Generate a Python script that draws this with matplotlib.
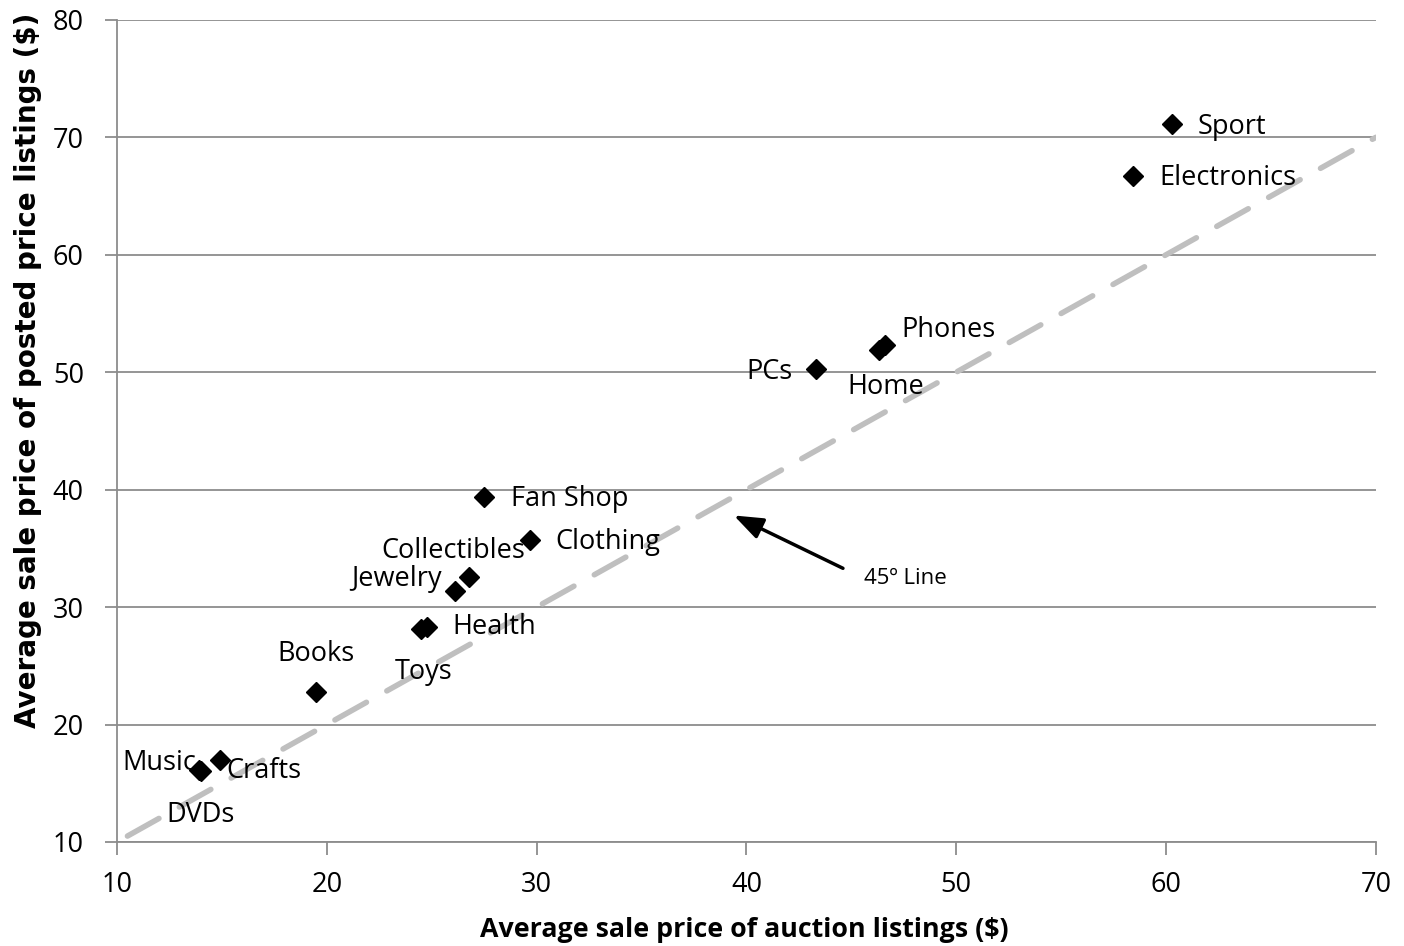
import matplotlib
matplotlib.use("Agg")
import matplotlib.pyplot as plt

plt.rcParams['font.family'] = ['Open Sans', 'DejaVu Sans']

categories = ["Sport", "Electronics", "Phones", "Home", "PCs", "Fan Shop", "Clothing",
              "Collectibles", "Jewelry", "Health", "Toys", "Books", "Crafts", "Music", "DVDs"]
auction = [60.3, 58.4, 46.6, 46.3, 43.3, 27.5, 29.7, 26.8, 26.1, 24.8, 24.5, 19.5, 14.9, 14.0, 13.9]
posted = [71.1, 66.7, 52.3, 51.9, 50.3, 39.4, 35.7, 32.6, 31.4, 28.3, 28.1, 22.8, 17.0, 16.0, 16.1]

# label positions (data coords) and alignment
label_x = [61.5, 59.7, 47.4, 44.8, 42.2, 28.8, 30.9, 26.05, 25.5, 26.0, 24.6, 19.5, 15.2, 13.8, 14.0]
label_y = [70.9, 66.5, 53.6, 48.7, 50.0, 39.2, 35.5, 34.8, 32.4, 28.3, 24.5, 26.0, 16.0, 16.7, 12.3]
label_ha = ["left", "left", "left", "left", "right", "left", "left", "center", "right", "left",
            "center", "center", "left", "right", "center"]

line_x = [10.5, 70]
line_y = [10.5, 70]

W, H = 1404, 946
fig = plt.figure(figsize=(W / 100, H / 100), dpi=100)
ax = fig.add_axes([0.0833, 0.110, 0.8967, 0.869])

ax.set_xlim(10, 70)
ax.set_ylim(10, 80)
ax.set_xticks(range(10, 71, 10))
ax.set_yticks(range(10, 81, 10))

ax.grid(axis='y', color='#8c8c8c', linewidth=1.3)
ax.set_axisbelow(True)
for s in ['top', 'right']:
    ax.spines[s].set_visible(False)
for s in ['left', 'bottom']:
    ax.spines[s].set_color('#8c8c8c')
    ax.spines[s].set_linewidth(1.3)
ax.tick_params(axis='both', direction='out', length=9, width=1.3, color='#8c8c8c',
               labelsize=19.5, labelcolor='black')
ax.tick_params(axis='x', pad=12)
ax.tick_params(axis='y', pad=26)
for lbl in ax.get_yticklabels():
    lbl.set_horizontalalignment('center')

ax.plot(line_x, line_y, color='#bfbfbf', linewidth=4, linestyle=(0, (6.5, 4.2)),
        dash_capstyle='round', zorder=2)

ax.plot(auction, posted, linestyle='none', marker='D', markersize=10.5,
        color='black', zorder=3)

for name, lx, ly, ha in zip(categories, label_x, label_y, label_ha):
    ax.text(lx, ly, name, ha=ha, va='center', fontsize=19.5, color='black', zorder=4)

ax.annotate("", xy=(39.4, 37.8), xytext=(44.6, 33.3),
            arrowprops=dict(arrowstyle='-|>,head_width=0.3,head_length=0.8',
                            color='black', lw=2.5, mutation_scale=22,
                            shrinkA=0, shrinkB=0))
ax.text(45.6, 32.4, "45º Line", ha='left', va='center', fontsize=16, color='black')

# axis labels placed as free text, sized to match the reference extents
xl = fig.text(0.5, 0.5, "Average sale price of auction listings ($)", fontsize=19.4,
              fontweight='bold', ha='center', va='center')
yl = fig.text(0.5, 0.5, "Average sale price of posted price listings ($)", fontsize=18,
              fontweight='bold', ha='center', va='center', rotation=90,
              family=['DejaVu Sans'])

# targets in pixels (top-origin): (center_x, center_y, length)
targets = {xl: (744, 930, 528, 'w'), yl: (28, 370, 710, 'h')}
for _ in range(2):
    fig.canvas.draw()
    r = fig.canvas.get_renderer()
    for t, (cx, cy, L, dim) in targets.items():
        bb = t.get_window_extent(renderer=r)
        cur = bb.width if dim == 'w' else bb.height
        t.set_fontsize(t.get_fontsize() * L / cur)
fig.canvas.draw()
r = fig.canvas.get_renderer()
for t, (cx, cy, L, dim) in targets.items():
    bb = t.get_window_extent(renderer=r)
    px, py = t.get_position()
    bcx = (bb.x0 + bb.x1) / 2
    bcy = (bb.y0 + bb.y1) / 2
    t.set_position((px + (cx - bcx) / W, py + ((H - cy) - bcy) / H))

fig.savefig("out.png", dpi=100)
